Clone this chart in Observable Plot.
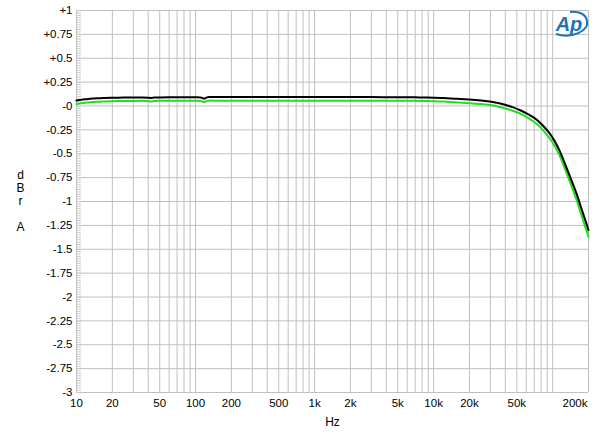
<!DOCTYPE html>
<html><head><meta charset="utf-8">
<script src="https://cdn.jsdelivr.net/npm/d3@7"></script>
<script src="https://cdn.jsdelivr.net/npm/@observablehq/plot@0.6"></script>
<style>body{margin:0;background:#fff;} svg{display:block;}</style>
</head><body><div id="chart"></div>
<script>
const freqs = [10,11,12,13,15,17,20,25,30,36,40,42,45,50,60,80,100,110,115,118,121,125,130,150,200,300,500,1000,2000,3000,5000,7000,8000,10000,12000,15000,20000,25000,28500,33000,39000,46000,54000,62000,70000,78000,85000,94000,103000,114000,125000,138000,152000,163000,173000,185000,196000,200000];
const blackDbr = [0.058,0.066,0.071,0.075,0.080,0.083,0.086,0.088,0.089,0.090,0.087,0.084,0.088,0.090,0.091,0.091,0.092,0.090,0.083,0.076,0.082,0.090,0.093,0.093,0.093,0.093,0.093,0.093,0.093,0.093,0.092,0.091,0.089,0.087,0.083,0.077,0.068,0.058,0.050,0.036,0.016,-0.012,-0.047,-0.085,-0.125,-0.172,-0.22,-0.285,-0.36,-0.465,-0.585,-0.72,-0.855,-0.96,-1.06,-1.17,-1.265,-1.30];
const greenDbr = [0.022,0.030,0.035,0.039,0.044,0.047,0.050,0.052,0.053,0.054,0.051,0.048,0.052,0.054,0.055,0.055,0.055,0.053,0.046,0.040,0.046,0.054,0.056,0.056,0.056,0.056,0.056,0.056,0.056,0.056,0.056,0.054,0.052,0.050,0.046,0.040,0.030,0.020,0.013,0.000,-0.022,-0.050,-0.083,-0.125,-0.168,-0.216,-0.268,-0.335,-0.41,-0.515,-0.638,-0.778,-0.918,-1.025,-1.13,-1.24,-1.335,-1.37];

const xTicks = [10,20,50,100,200,500,1000,2000,5000,10000,20000,50000];
const xTickLabels = ["10","20","50","100","200","500","1k","2k","5k","10k","20k","50k"];
const xLastTick = [200000];
const xLastLabel = ["200k"];
const xGrid = [10,20,30,40,50,60,70,80,90,100,200,300,400,500,600,700,800,900,1000,2000,3000,4000,5000,6000,7000,8000,9000,10000,20000,30000,40000,50000,60000,70000,80000,90000,100000,200000];
const yTicks = [1,0.75,0.5,0.25,0,-0.25,-0.5,-0.75,-1,-1.25,-1.5,-1.75,-2,-2.25,-2.5,-2.75,-3];
const yTickLabels = ["+1","+0.75","+0.5","+0.25","-0","-0.25","-0.5","-0.75","-1","-1.25","-1.5","-1.75","-2","-2.25","-2.5","-2.75","-3"];
const yMinor = d3.range(0, 161).map(i => -3 + i * 0.025);
const yLabelLetters = ["d","B","r","A"];
const yLabelLines = [0, 1, 2, 4];

const black = freqs.map((f, i) => ({f, v: blackDbr[i]}));
const green = freqs.map((f, i) => ({f, v: greenDbr[i]}));

const font = "'Liberation Sans', Arial, sans-serif";
const chart = Plot.plot({
  width: 600, height: 434,
  marginLeft: 76, marginRight: 12, marginTop: 10, marginBottom: 42,
  style: {fontFamily: font, fontSize: "11.5px", background: "#fff", color: "#000"},
  x: {type: "log", domain: [10, 200000], axis: null},
  y: {domain: [-3, 1], axis: null},
  marks: [
    Plot.ruleX(xGrid, {stroke: "#c0c0c0", strokeWidth: 1}),
    Plot.ruleY(yTicks, {stroke: "#c0c0c0", strokeWidth: 1}),
    Plot.ruleY(yMinor, {x1: 10, x2: 11.0, stroke: "#c8c8c8", strokeWidth: 1}),
    Plot.text(xTicks, {x: d => d, frameAnchor: "bottom", dy: 11, lineAnchor: "middle", text: (d, i) => xTickLabels[i], fontSize: 11.5}),
    Plot.text(xLastTick, {x: d => d, frameAnchor: "bottom", dy: 11, dx: -1, lineAnchor: "middle", textAnchor: "end", text: (d, i) => xLastLabel[i], fontSize: 11.5}),
    Plot.text(yTicks, {y: d => d, frameAnchor: "left", dx: -4, textAnchor: "end", lineAnchor: "middle", text: (d, i) => yTickLabels[i], fontSize: 11.5}),
    Plot.text(["Hz"], {frameAnchor: "bottom", dy: 30, lineAnchor: "middle", fontSize: 12}),
    ...yLabelLetters.map((t, i) => Plot.text([t], {frameAnchor: "top-left", dx: -56, dy: 165 + yLabelLines[i] * 13, textAnchor: "middle", lineAnchor: "middle", fontSize: 12})),
    Plot.line(green, {x: "f", y: "v", stroke: "#1ee01e", strokeWidth: 2, curve: "catmull-rom"}),
    Plot.line(black, {x: "f", y: "v", stroke: "#000", strokeWidth: 2, curve: "catmull-rom"})
  ]
});
document.getElementById("chart").appendChild(chart);

// Audio Precision logo
const svg = d3.select(chart);
const logo = svg.append("g").attr("fill", "#1f74b8");
logo.append("text").attr("x", 569).attr("y", 31).attr("text-anchor", "middle")
  .attr("font-family", font).attr("font-style", "italic").attr("font-weight", "bold").attr("font-size", 20).text("Ap");
logo.append("path").attr("d", "M556,34 C572,39 589,31 587,21 C586,14 579,11 570,12")
  .attr("fill", "none").attr("stroke", "#1f74b8").attr("stroke-width", 2);
</script>
</body></html>
